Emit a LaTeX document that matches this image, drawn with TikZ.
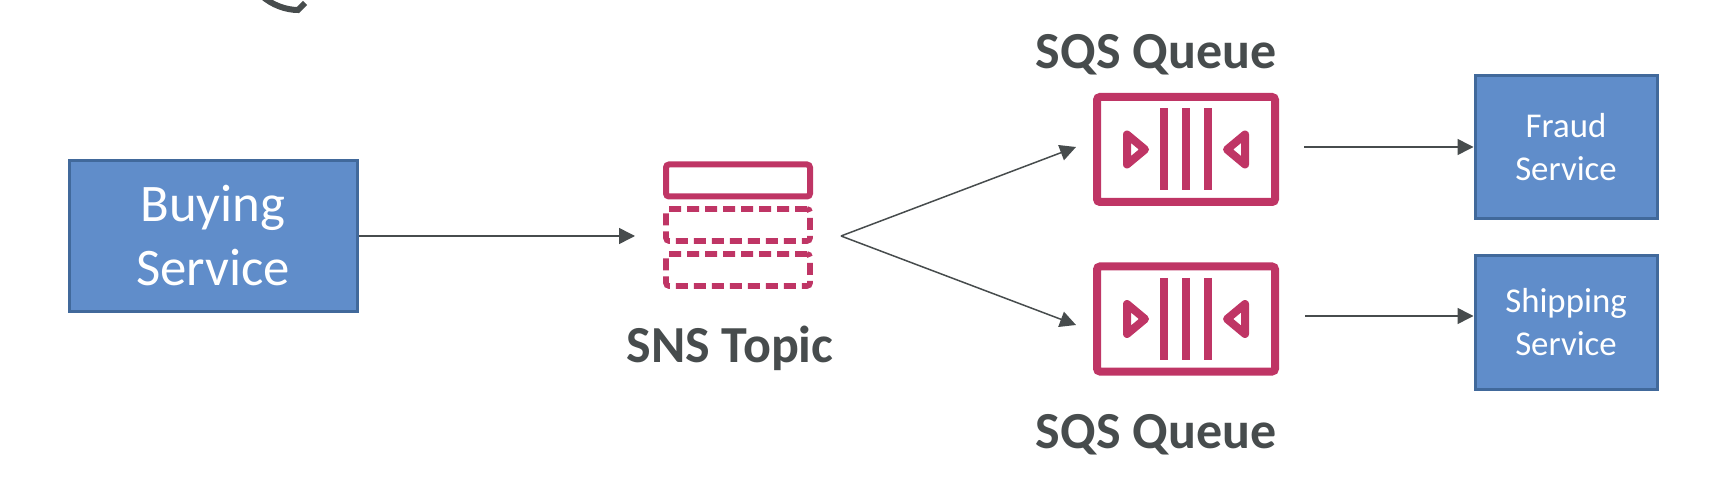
\documentclass[tikz,border=0pt]{standalone}
\usepackage{fontspec}
\setmainfont{Carlito}
\usetikzlibrary{arrows.meta,positioning}
\definecolor{snspink}{RGB}{191,53,101}
\definecolor{svcblue}{RGB}{96,141,202}
\definecolor{svcedge}{RGB}{65,105,155}
\definecolor{labelgray}{RGB}{71,76,77}
\begin{document}
\begin{tikzpicture}[
  x=0.5pt, y=-0.5pt,
  service/.style={draw=svcedge, line width=1.5pt, fill=svcblue, text=white,
               align=center, inner sep=0pt},
  iconlabel/.style={text=labelgray, font=\fontsize{26}{30}\selectfont\bfseries,
               inner sep=0pt},
  topicbar/.style={draw=snspink, line width=3pt, rounded corners=1.5pt,
               minimum width=72pt, minimum height=16pt, inner sep=0pt},
  topicslot/.style={topicbar, dash pattern=on 6pt off 3pt, line width=2.8pt},
  queuebox/.style={draw=snspink, line width=4pt, rounded corners=1.5pt,
               minimum width=89pt, minimum height=52.5pt, inner sep=0pt},
  queuemark/.style={draw=snspink, line width=4pt, line join=round},
  arr/.style={-{Triangle[length=8pt,width=8pt]}, draw=labelgray, line width=0.75pt}
]
\useasboundingbox (0,0) rectangle (1734,486);

% stray stroke at the top edge
\begin{scope}
\clip (0,0) rectangle (1734,486);
\draw[labelgray, line width=3pt] (262,-4) .. controls (272,5) and (286,10) .. (298,10) -- (305,3);
\end{scope}

\node[service, minimum width=144pt, minimum height=75.5pt, font=\fontsize{26.4}{32}\selectfont]
  (buying) at (213,236) {Buying\\Service};

\node[topicbar] (topic) at (738,180.5) {};
\node[topicslot] (slota) at (738,225) {};
\node[topicslot] (slotb) at (738,270) {};
\node[iconlabel, anchor=base] (topiclabel) at (730,362) {SNS Topic};

\foreach \name/\cy in {top/149.5, bot/319} {
  \node[queuebox] (queue\name) at (1186,\cy) {};
  \foreach \barx in {1164,1186,1208}
    \draw[queuemark] (\barx,\cy-41) -- (\barx,\cy+41);
  \draw[queuemark] (1127,\cy-15) -- (1145,\cy) -- (1127,\cy+15) -- cycle;
  \draw[queuemark] (1245,\cy-15) -- (1227,\cy) -- (1245,\cy+15) -- cycle;
}
\node[iconlabel, above=9pt of queuetop, xshift=-15pt] (toplabel) {SQS Queue};
\node[iconlabel, below=19pt of queuebot, xshift=-15pt] (botlabel) {SQS Queue};

\node[service, minimum width=91pt, minimum height=71.5pt, font=\fontsize{17.4}{21.5}\selectfont]
  (fraud) at (1566,147) {Fraud\\Service};
\node[service, minimum width=91pt, minimum height=67pt, font=\fontsize{17.4}{21.5}\selectfont]
  (shipping) at (1566,322.5) {Shipping\\Service};

\coordinate (topicin) at (635,236);
\coordinate (fork) at (841,236);
\coordinate (queuetopin) at (1076,147);
\coordinate (queuebotin) at (1076,325);
\coordinate (queuetopout) at (1304,147);
\coordinate (queuebotout) at (1305,316);

\draw[arr] (buying) -- (topicin);
\draw[arr] (fork) -- (queuetopin);
\draw[arr] (fork) -- (queuebotin);
\draw[arr] (queuetopout) -- (fraud);
\draw[arr] (queuebotout) -- (queuebotout -| shipping.west);
\end{tikzpicture}
\end{document}
